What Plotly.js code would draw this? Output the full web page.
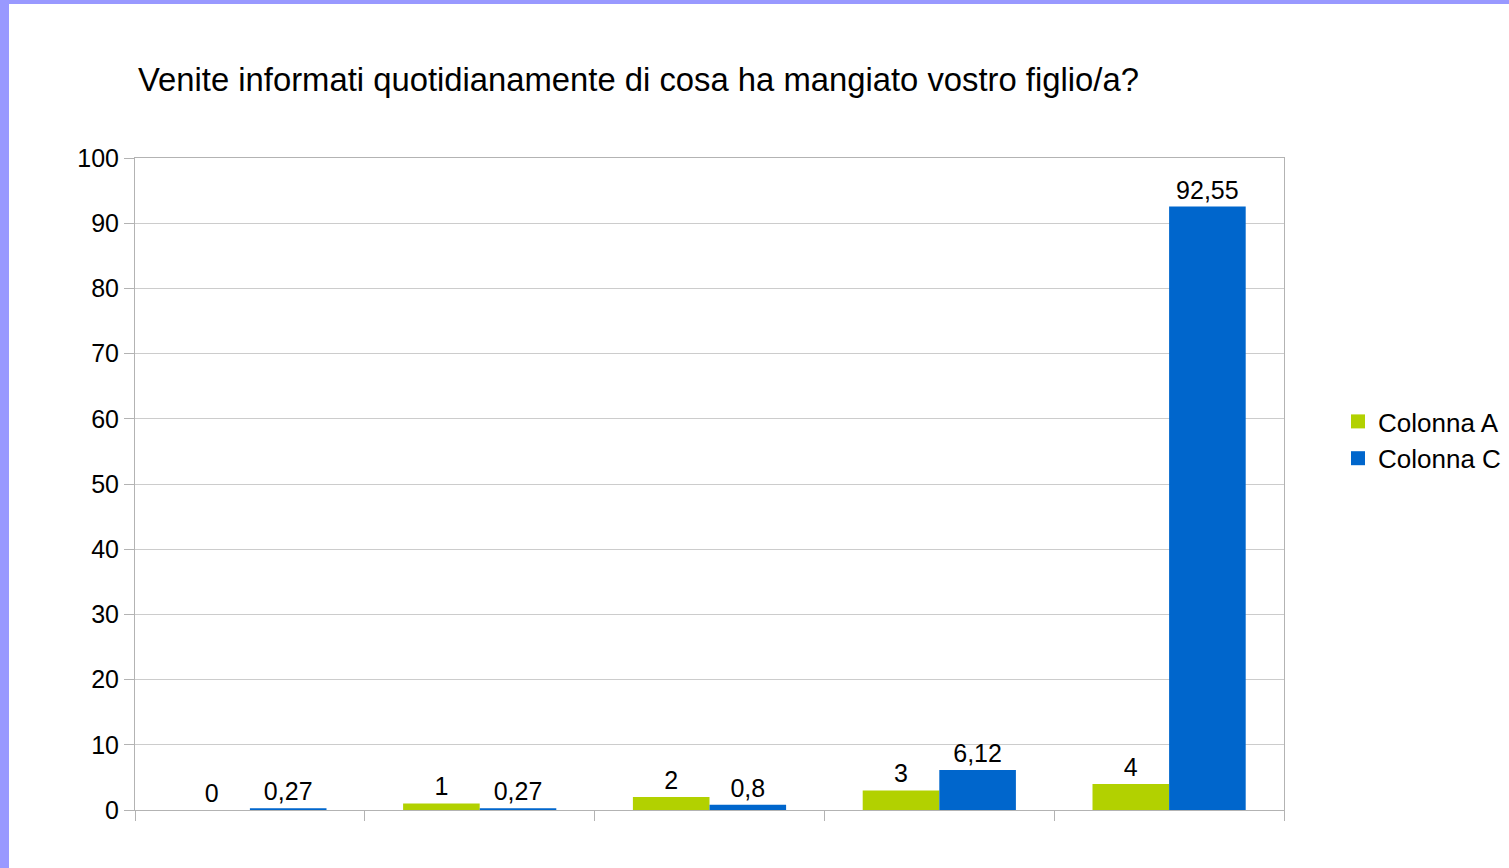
<!DOCTYPE html>
<html>
<head>
<meta charset="utf-8">
<script src="https://cdn.plot.ly/plotly-3.0.1.min.js"></script>
<style>
html,body{margin:0;padding:0;background:#fff;overflow:hidden;}
#chart{position:absolute;left:0;top:0;width:1509px;height:868px;}
#bl{position:absolute;left:0;top:0;width:9px;height:868px;background:#9999ff;}
#bt{position:absolute;left:0;top:0;width:1509px;height:4px;background:#9999ff;}
</style>
</head>
<body>
<div id="chart"></div>
<div id="bl"></div>
<div id="bt"></div>
<script>
var categories = ["1", "2", "3", "4", "5"];
var colonnaA = [0, 1, 2, 3, 4];
var colonnaC = [0.27, 0.27, 0.8, 6.12, 92.55];
var seriesNames = ["Colonna A", "Colonna C"];
var seriesColors = ["#b2d100", "#0066cc"];
var titleText = "Venite informati quotidianamente di cosa ha mangiato vostro figlio/a?";

function lbl(arr){ return arr.map(function(v){ return String(v).replace('.', ','); }); }

var fam = "Liberation Sans, Arial, sans-serif";
var labelFont = {family: fam, size: 25, color: "#000"};

var traces = [
  {type: "bar", name: seriesNames[0], x: categories, y: colonnaA, showlegend: false,
   marker: {color: seriesColors[0]}, text: lbl(colonnaA), textposition: "outside",
   textfont: labelFont, cliponaxis: false, hoverinfo: "none"},
  {type: "bar", name: seriesNames[1], x: categories, y: colonnaC, showlegend: false,
   marker: {color: seriesColors[1]}, text: lbl(colonnaC), textposition: "outside",
   textfont: labelFont, cliponaxis: false, hoverinfo: "none"},
  {type: "scatter", mode: "markers", name: seriesNames[0], x: [null], y: [null],
   marker: {symbol: "square", size: 14, color: seriesColors[0]}, hoverinfo: "none"},
  {type: "scatter", mode: "markers", name: seriesNames[1], x: [null], y: [null],
   marker: {symbol: "square", size: 14, color: seriesColors[1]}, hoverinfo: "none"}
];

var layout = {
  width: 1509, height: 868,
  paper_bgcolor: "#fff", plot_bgcolor: "#fff",
  font: labelFont,
  margin: {l: 135, r: 225, t: 158, b: 58, pad: 0, autoexpand: false},
  barmode: "group", bargap: 1/3, bargroupgap: 0,
  title: {text: titleText, font: {family: fam, size: 32.8, color: "#000"},
          xref: "container", x: 138/1509, xanchor: "left",
          yref: "container", y: 1 - 80/868, yanchor: "middle"},
  xaxis: {type: "category", categoryorder: "array", categoryarray: categories,
          showticklabels: false, ticks: "outside", tickson: "boundaries",
          ticklen: 10, tickcolor: "#b3b3b3", tickwidth: 1,
          showline: true, linecolor: "#b3b3b3", mirror: true, showgrid: false, zeroline: false},
  yaxis: {range: [0, 100], dtick: 10, tick0: 0, ticks: "outside", ticklen: 10,
          tickcolor: "#b3b3b3", showline: true, linecolor: "#b3b3b3", mirror: true,
          gridcolor: "#cccccc", zeroline: false, tickfont: labelFont, ticklabelstandoff: 0},
  legend: {x: (1338 - 135) / 1149, xanchor: "left", y: (810 - 440) / 652, yanchor: "middle",
           font: {family: fam, size: 26, color: "#000"}, bgcolor: "rgba(0,0,0,0)", itemwidth: 30},
  showlegend: true,
  separators: ",."
};

Plotly.newPlot("chart", traces, layout, {displayModeBar: false, staticPlot: true});
</script>
</body>
</html>
